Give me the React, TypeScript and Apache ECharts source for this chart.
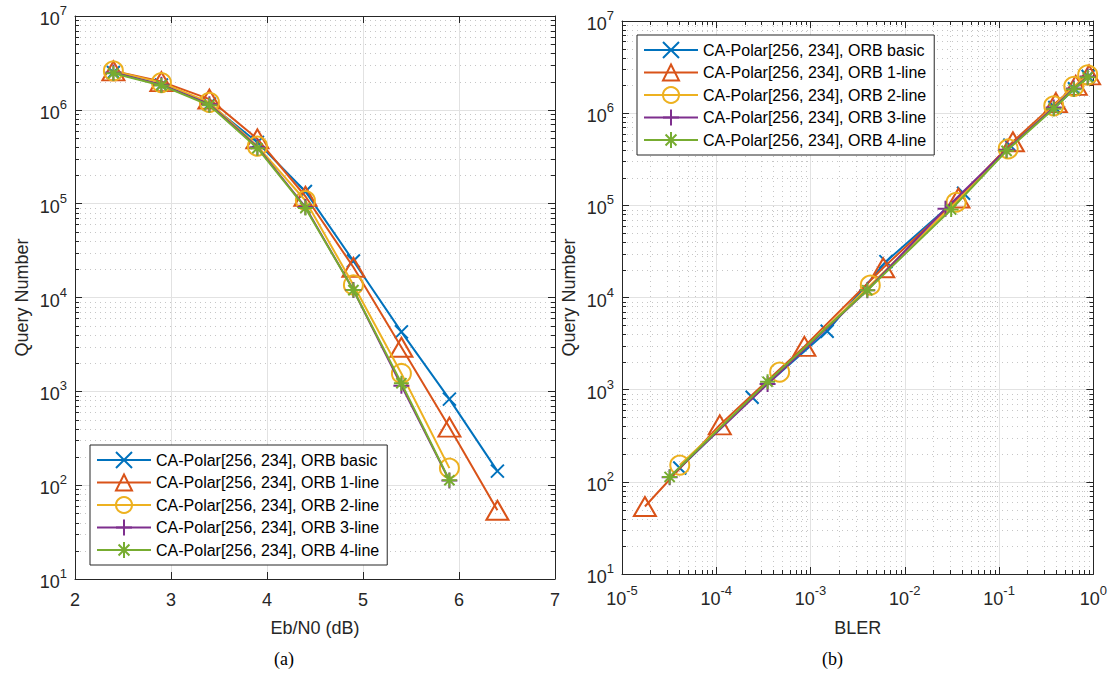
import React, { useEffect, useRef } from "react";
import * as echarts from "echarts";

// ---------------- data ----------------
const seriesNames = [
  "CA-Polar[256, 234], ORB basic",
  "CA-Polar[256, 234], ORB 1-line",
  "CA-Polar[256, 234], ORB 2-line",
  "CA-Polar[256, 234], ORB 3-line",
  "CA-Polar[256, 234], ORB 4-line",
];

const ebn0Long = [2.4, 2.9, 3.4, 3.9, 4.4, 4.9, 5.4, 5.9, 6.4];
const ebn0Short = [2.4, 2.9, 3.4, 3.9, 4.4, 4.9, 5.4, 5.9];

const queryBasic = [2.5e6, 1.84e6, 1.15e6, 4.5e5, 1.35e5, 2.45e4, 4.3e3, 826, 141];
const query1Line = [2.6e6, 2.0e6, 1.3e6, 4.9e5, 1.2e5, 2.1e4, 2.95e3, 415, 54];
const query2Line = [2.6e6, 1.95e6, 1.2e6, 4.1e5, 1.08e5, 1.36e4, 1.55e3, 152];
const query3Line = [2.5e6, 1.85e6, 1.15e6, 4.0e5, 9.2e4, 1.2e4, 1.15e3, 112];
const query4Line = [2.45e6, 1.82e6, 1.12e6, 3.9e5, 9.0e4, 1.2e4, 1.22e3, 113];

const blerBasic = [0.88, 0.63, 0.39, 0.13, 0.042, 6.3e-3, 1.5e-3, 2.4e-4, 4.1e-5];
const bler1Line = [0.9, 0.65, 0.4, 0.14, 0.037, 5.9e-3, 8.6e-4, 1.09e-4, 1.75e-5];
const bler2Line = [0.87, 0.62, 0.38, 0.125, 0.035, 4.3e-3, 4.7e-4, 4.1e-5];
const bler3Line = [0.87, 0.62, 0.38, 0.12, 0.027, 4.0e-3, 3.5e-4, 3.2e-5];
const bler4Line = [0.87, 0.62, 0.38, 0.12, 0.031, 4.0e-3, 3.5e-4, 3.2e-5];

const ebn0Ticks = [2, 3, 4, 5, 6, 7];
const queryDecades = [1e1, 1e2, 1e3, 1e4, 1e5, 1e6, 1e7];
const blerDecades = [1e-5, 1e-4, 1e-3, 1e-2, 1e-1, 1];
const minorSteps = [2, 3, 4, 5, 6, 7, 8, 9];

const leftX = [ebn0Long, ebn0Long, ebn0Short, ebn0Short, ebn0Short];
const leftY = [queryBasic, query1Line, query2Line, query3Line, query4Line];
const rightX = [blerBasic, bler1Line, bler2Line, bler3Line, bler4Line];

// ---------------- styles ----------------
const colors = ["#0072BD", "#D95319", "#EDB120", "#7E2F8E", "#77AC30"];
const symbols = [
  "path://M0,0L10,10M10,0L0,10",
  "triangle",
  "circle",
  "path://M5,0L5,10M0,5L10,5",
  "path://M5,0L5,10M0,5L10,5M1.6,1.6L8.4,8.4M8.4,1.6L1.6,8.4",
];
const symbolSizes: any[] = [13, [22, 19], 19, 16, 15];

const FONT = "'Liberation Sans', Arial, Helvetica, sans-serif";
const TXT = "#262626";
const AXIS = "#262626";
const MAJOR_GRID = "#e2e2e2";
const MINOR_GRID = "#c6c6c6";

const minorOf = (decades: number[]) =>
  decades.slice(0, -1).flatMap((d) => minorSteps.map((m) => d * m));

const logLabel = (v: number) => {
  const e = Math.round(Math.log10(v));
  return `{b|10}{s|${e}}`;
};

const richLog = {
  b: { fontSize: 18, fontFamily: FONT, color: TXT, lineHeight: 24, verticalAlign: "bottom" },
  s: { fontSize: 13, fontFamily: FONT, color: TXT, lineHeight: 13, verticalAlign: "top" },
};

function baseAxis(extra: any) {
  return {
    axisLine: { show: true, onZero: false, lineStyle: { color: AXIS, width: 1 } },
    axisTick: { show: true, inside: true, length: 7, lineStyle: { color: AXIS, width: 1 } },
    splitLine: { show: false },
    ...extra,
  };
}

function minorSeries(
  xAxisIndex: number,
  yAxisIndex: number,
  values: number[],
  fixed: number,
  horizontal: boolean
) {
  return {
    type: "custom",
    xAxisIndex,
    yAxisIndex,
    silent: true,
    z: 1,
    clip: false,
    data: values.map((v) => (horizontal ? [fixed, v] : [v, fixed])),
    renderItem: (params: any, api: any) => {
      const cs = params.coordSys;
      const p = api.coord([api.value(0), api.value(1)]);
      const children: any[] = [];
      if (horizontal) {
        const y = Math.round(p[1]) + 0.5;
        children.push(
          { type: "line", shape: { x1: cs.x, y1: y, x2: cs.x + cs.width, y2: y }, style: { stroke: MINOR_GRID, lineWidth: 1, lineDash: [1, 4] } },
          { type: "line", shape: { x1: cs.x, y1: y, x2: cs.x + 4, y2: y }, style: { stroke: AXIS, lineWidth: 1 } },
          { type: "line", shape: { x1: cs.x + cs.width - 4, y1: y, x2: cs.x + cs.width, y2: y }, style: { stroke: AXIS, lineWidth: 1 } }
        );
      } else {
        const x = Math.round(p[0]) + 0.5;
        children.push(
          { type: "line", shape: { x1: x, y1: cs.y, x2: x, y2: cs.y + cs.height }, style: { stroke: MINOR_GRID, lineWidth: 1, lineDash: [1, 4] } },
          { type: "line", shape: { x1: x, y1: cs.y + cs.height - 4, x2: x, y2: cs.y + cs.height }, style: { stroke: AXIS, lineWidth: 1 } },
          { type: "line", shape: { x1: x, y1: cs.y, x2: x, y2: cs.y + 4 }, style: { stroke: AXIS, lineWidth: 1 } }
        );
      }
      return { type: "group", children };
    },
  };
}

function lineSeries(i: number, xIdx: number, yIdx: number, xs: number[], ys: number[]) {
  return {
    type: "line",
    name: seriesNames[i],
    xAxisIndex: xIdx,
    yAxisIndex: yIdx,
    data: xs.map((x, j) => [x, ys[j]]),
    symbol: symbols[i],
    symbolSize: symbolSizes[i],
    showSymbol: true,
    showAllSymbol: true,
    clip: false,
    z: 3 + i,
    lineStyle: { color: colors[i], width: 2 },
    itemStyle: { color: "rgba(255,255,255,0)", borderColor: colors[i], borderWidth: 2 },
    emphasis: { disabled: true },
  };
}

function legend(left: number, top: number) {
  return {
    show: true,
    orient: "vertical",
    left,
    top,
    data: seriesNames,
    itemWidth: 54,
    itemHeight: 20,
    itemGap: 2.5,
    padding: [5, 8, 5, 6],
    backgroundColor: "#ffffff",
    borderColor: AXIS,
    borderWidth: 1,
    selectedMode: false,
    textStyle: { fontSize: 16, fontFamily: FONT, color: "#000", lineHeight: 20 },
  };
}

export default function App() {
  const ref = useRef<HTMLDivElement>(null);

  useEffect(() => {
    if (!ref.current) return;
    const chart = echarts.init(ref.current, undefined, { renderer: "svg" });

    const queryMinor = minorOf(queryDecades);
    const blerMinor = minorOf(blerDecades);

    const option: any = {
      animation: false,
      backgroundColor: "#ffffff",
      textStyle: { fontFamily: FONT },
      grid: [
        { left: 75, top: 16, width: 480, height: 563 },
        { left: 622, top: 21, width: 473, height: 553 },
      ],
      legend: [legend(90, 445), legend(637, 35)],
      xAxis: [
        baseAxis({
          gridIndex: 0,
          type: "value",
          position: "bottom",
          min: ebn0Ticks[0],
          max: ebn0Ticks[ebn0Ticks.length - 1],
          interval: 1,
          axisLabel: { fontSize: 18, fontFamily: FONT, color: TXT, margin: 12 },
          splitLine: { show: true, lineStyle: { color: MAJOR_GRID, width: 1 } },
          name: "Eb/N0 (dB)",
          nameLocation: "middle",
          nameGap: 40,
          nameTextStyle: { fontSize: 18, fontFamily: FONT, color: TXT },
        }),
        baseAxis({
          gridIndex: 0,
          type: "value",
          position: "top",
          min: ebn0Ticks[0],
          max: ebn0Ticks[ebn0Ticks.length - 1],
          interval: 1,
          axisLabel: { show: false },
        }),
        baseAxis({
          gridIndex: 1,
          type: "log",
          logBase: 10,
          position: "bottom",
          min: blerDecades[0],
          max: blerDecades[blerDecades.length - 1],
          splitNumber: 5,
          axisLabel: { formatter: logLabel, rich: richLog, margin: 10 },
          splitLine: { show: true, lineStyle: { color: MAJOR_GRID, width: 1 } },
          name: "BLER",
          nameLocation: "middle",
          nameGap: 45,
          nameTextStyle: { fontSize: 18, fontFamily: FONT, color: TXT },
        }),
        baseAxis({
          gridIndex: 1,
          type: "log",
          logBase: 10,
          position: "top",
          min: blerDecades[0],
          max: blerDecades[blerDecades.length - 1],
          splitNumber: 5,
          axisLabel: { show: false },
        }),
      ],
      yAxis: [
        baseAxis({
          gridIndex: 0,
          type: "log",
          logBase: 10,
          position: "left",
          min: queryDecades[0],
          max: queryDecades[queryDecades.length - 1],
          splitNumber: 6,
          axisLabel: { formatter: logLabel, rich: richLog, margin: 8 },
          splitLine: { show: true, lineStyle: { color: MAJOR_GRID, width: 1 } },
          name: "Query Number",
          nameLocation: "middle",
          nameGap: 44,
          nameTextStyle: { fontSize: 18, fontFamily: FONT, color: TXT },
        }),
        baseAxis({
          gridIndex: 0,
          type: "log",
          logBase: 10,
          position: "right",
          min: queryDecades[0],
          max: queryDecades[queryDecades.length - 1],
          splitNumber: 6,
          axisLabel: { show: false },
        }),
        baseAxis({
          gridIndex: 1,
          type: "log",
          logBase: 10,
          position: "left",
          min: queryDecades[0],
          max: queryDecades[queryDecades.length - 1],
          splitNumber: 6,
          axisLabel: { formatter: logLabel, rich: richLog, margin: 8 },
          splitLine: { show: true, lineStyle: { color: MAJOR_GRID, width: 1 } },
          name: "Query Number",
          nameLocation: "middle",
          nameGap: 44,
          nameTextStyle: { fontSize: 18, fontFamily: FONT, color: TXT },
        }),
        baseAxis({
          gridIndex: 1,
          type: "log",
          logBase: 10,
          position: "right",
          min: queryDecades[0],
          max: queryDecades[queryDecades.length - 1],
          splitNumber: 6,
          axisLabel: { show: false },
        }),
      ],
      graphic: [
        {
          type: "text",
          left: 274,
          top: 650,
          style: { text: "(a)", fontSize: 18, fontFamily: "'Liberation Serif', 'Times New Roman', serif", fill: "#000" },
        },
        {
          type: "text",
          left: 822,
          top: 650,
          style: { text: "(b)", fontSize: 18, fontFamily: "'Liberation Serif', 'Times New Roman', serif", fill: "#000" },
        },
      ],
      series: [
        minorSeries(0, 0, queryMinor, ebn0Ticks[0], true),
        minorSeries(2, 2, queryMinor, blerDecades[0], true),
        minorSeries(2, 2, blerMinor, queryDecades[0], false),
        ...seriesNames.map((_, i) => lineSeries(i, 0, 0, leftX[i], leftY[i])),
        ...seriesNames.map((_, i) => lineSeries(i, 2, 2, rightX[i], leftY[i])),
      ],
    };

    chart.setOption(option);
    return () => chart.dispose();
  }, []);

  return (
    <div
      ref={ref}
      style={{ position: "absolute", left: 0, top: 0, width: 1110, height: 677, background: "#fff" }}
    />
  );
}
